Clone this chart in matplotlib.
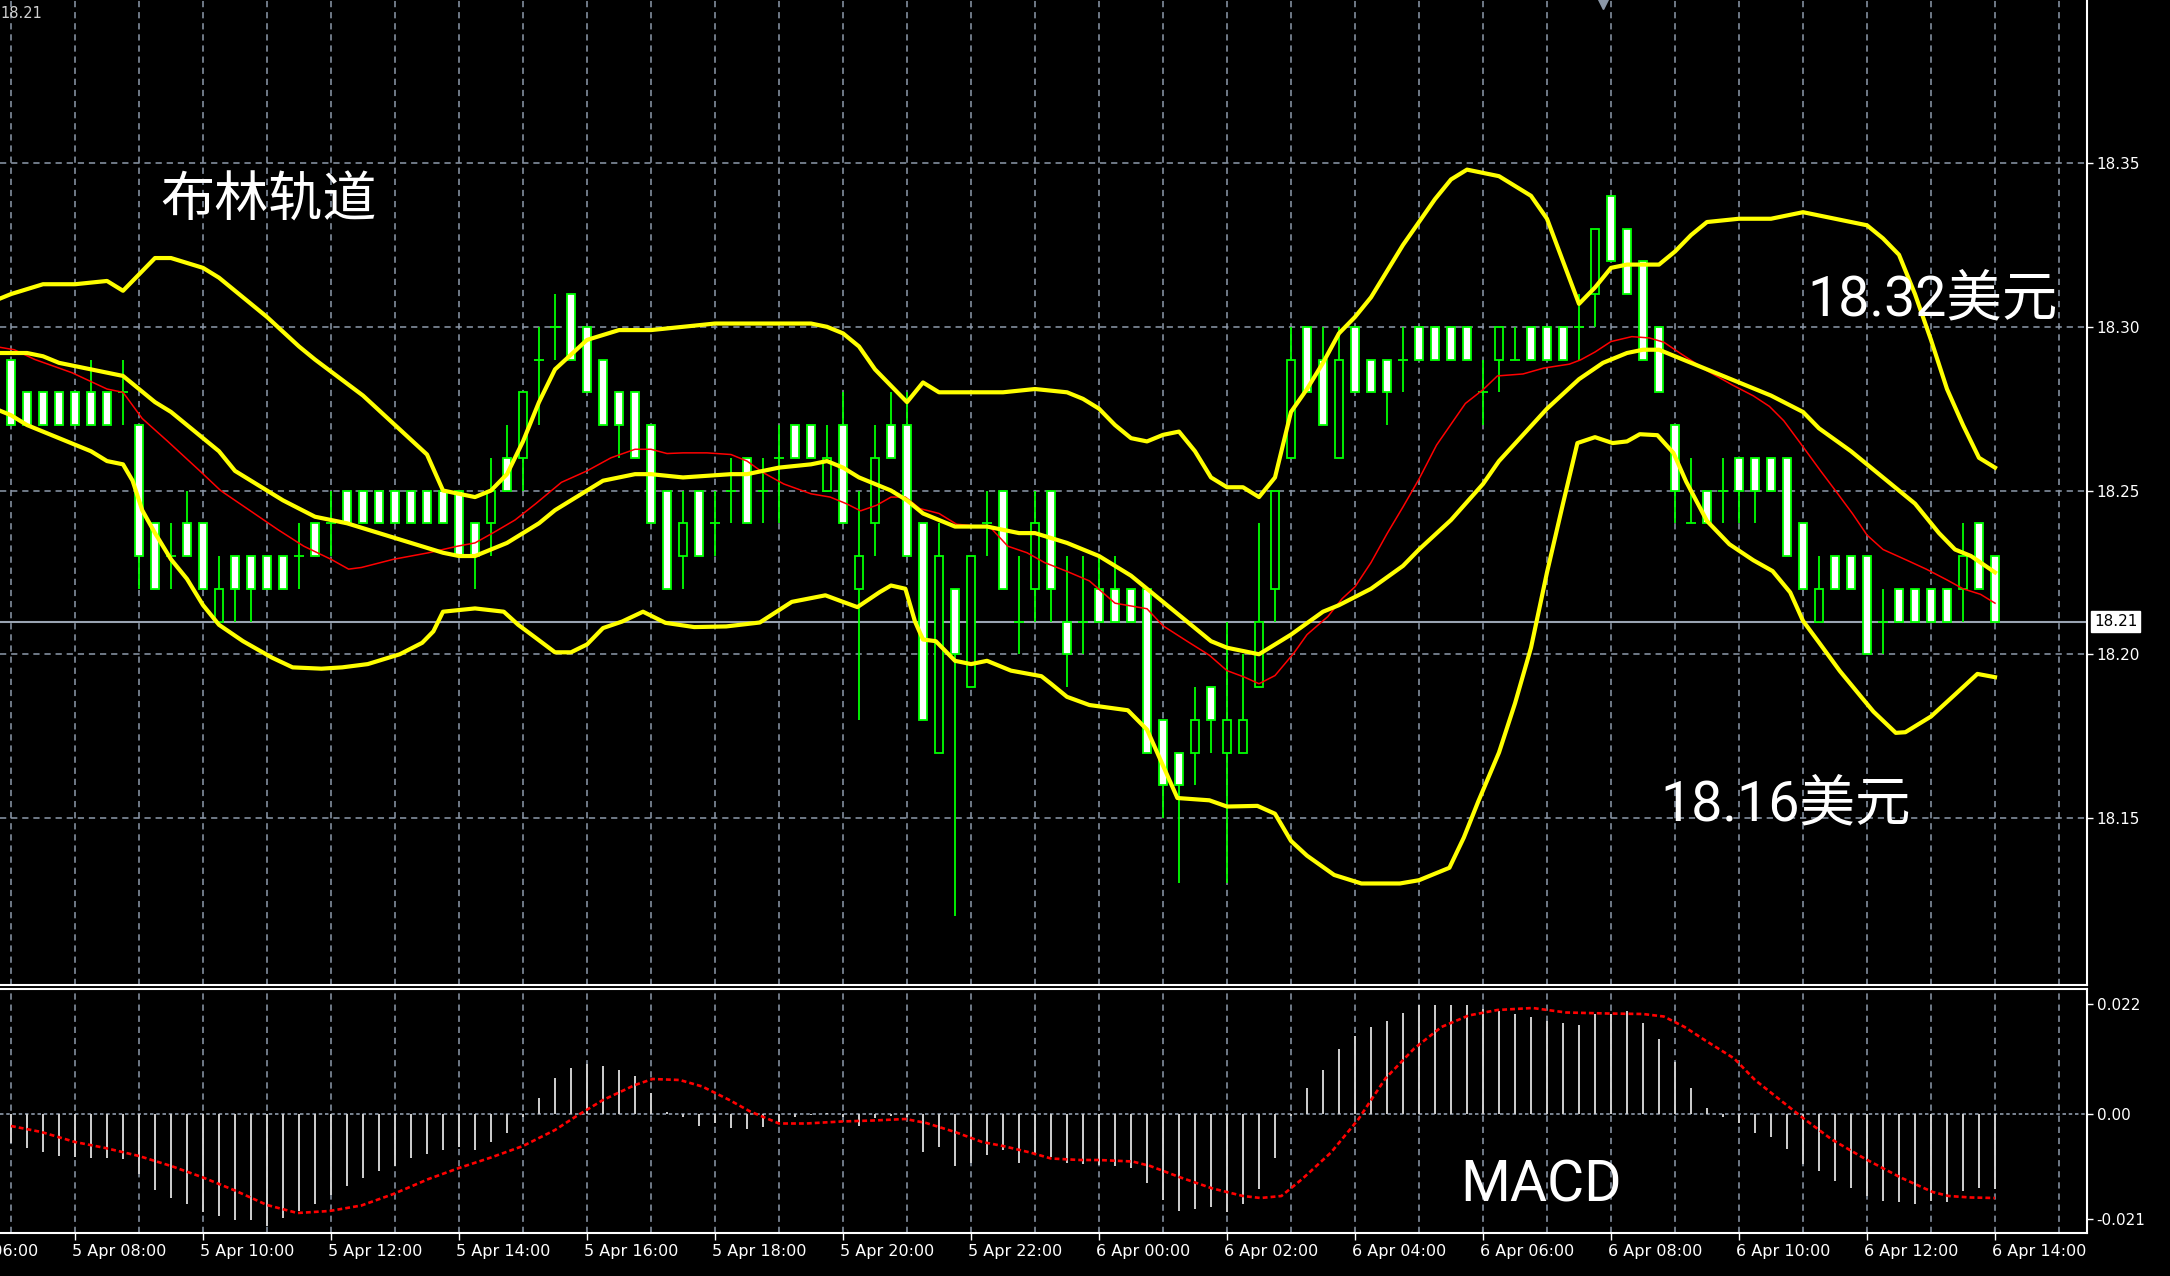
from datetime import datetime, timedelta

import matplotlib
matplotlib.use("Agg")
import matplotlib.pyplot as plt
import numpy as np

plt.rcParams['lines.scale_dashes'] = False

# 15-minute bars, bar 0 = 5 Apr 08:00
bars = np.arange(-4, 121)
opens = [18.29, 18.28, 18.28, 18.28, 18.28, 18.28, 18.28, 18.28,
         18.27, 18.24, 18.23, 18.24, 18.24, 18.21, 18.23, 18.23,
         18.23, 18.23, 18.23, 18.24, 18.24, 18.25, 18.25, 18.25,
         18.25, 18.25, 18.25, 18.25, 18.25, 18.24, 18.24, 18.26,
         18.26, 18.29, 18.30, 18.31, 18.30, 18.29, 18.28, 18.28,
         18.27, 18.25, 18.23, 18.25, 18.24, 18.25, 18.26, 18.25,
         18.26, 18.27, 18.27, 18.25, 18.27, 18.22, 18.24, 18.27,
         18.27, 18.24, 18.17, 18.22, 18.19, 18.24, 18.25, 18.21,
         18.22, 18.25, 18.21, 18.21, 18.22, 18.22, 18.22, 18.22,
         18.18, 18.17, 18.17, 18.19, 18.17, 18.17, 18.19, 18.22,
         18.26, 18.30, 18.29, 18.26, 18.30, 18.29, 18.29, 18.29,
         18.30, 18.30, 18.30, 18.30, 18.28, 18.29, 18.29, 18.30,
         18.30, 18.30, 18.30, 18.31, 18.34, 18.33, 18.32, 18.30,
         18.27, 18.24, 18.25, 18.25, 18.26, 18.26, 18.26, 18.26,
         18.24, 18.21, 18.23, 18.23, 18.23, 18.21, 18.22, 18.22,
         18.22, 18.22, 18.22, 18.24, 18.23]
highs = [18.29, 18.28, 18.28, 18.28, 18.28, 18.29, 18.28, 18.29,
         18.27, 18.24, 18.24, 18.25, 18.24, 18.23, 18.23, 18.23,
         18.23, 18.23, 18.24, 18.24, 18.25, 18.25, 18.25, 18.25,
         18.25, 18.25, 18.25, 18.25, 18.25, 18.24, 18.26, 18.27,
         18.28, 18.30, 18.31, 18.31, 18.30, 18.29, 18.28, 18.28,
         18.27, 18.25, 18.25, 18.25, 18.25, 18.26, 18.26, 18.26,
         18.27, 18.27, 18.27, 18.27, 18.28, 18.25, 18.27, 18.28,
         18.28, 18.24, 18.24, 18.22, 18.23, 18.25, 18.25, 18.23,
         18.25, 18.25, 18.23, 18.23, 18.23, 18.23, 18.22, 18.22,
         18.18, 18.17, 18.19, 18.19, 18.21, 18.20, 18.24, 18.25,
         18.30, 18.30, 18.30, 18.30, 18.30, 18.29, 18.29, 18.30,
         18.30, 18.30, 18.30, 18.30, 18.29, 18.30, 18.30, 18.30,
         18.30, 18.30, 18.31, 18.33, 18.34, 18.33, 18.32, 18.30,
         18.27, 18.26, 18.25, 18.26, 18.26, 18.26, 18.26, 18.26,
         18.24, 18.23, 18.23, 18.23, 18.23, 18.22, 18.22, 18.22,
         18.22, 18.22, 18.24, 18.24, 18.23]
lows = [18.27, 18.27, 18.27, 18.27, 18.27, 18.27, 18.27, 18.27,
        18.22, 18.22, 18.22, 18.23, 18.22, 18.21, 18.21, 18.21,
        18.22, 18.22, 18.22, 18.23, 18.23, 18.24, 18.24, 18.24,
        18.24, 18.24, 18.24, 18.24, 18.23, 18.22, 18.23, 18.25,
        18.25, 18.27, 18.29, 18.29, 18.28, 18.27, 18.26, 18.26,
        18.24, 18.22, 18.22, 18.23, 18.23, 18.24, 18.24, 18.24,
        18.24, 18.26, 18.26, 18.25, 18.24, 18.18, 18.23, 18.26,
        18.23, 18.18, 18.17, 18.12, 18.19, 18.23, 18.22, 18.20,
        18.21, 18.21, 18.19, 18.20, 18.21, 18.21, 18.21, 18.17,
        18.15, 18.13, 18.16, 18.17, 18.13, 18.17, 18.19, 18.21,
        18.26, 18.28, 18.27, 18.26, 18.28, 18.28, 18.27, 18.28,
        18.29, 18.29, 18.29, 18.29, 18.27, 18.28, 18.29, 18.29,
        18.29, 18.29, 18.29, 18.30, 18.32, 18.31, 18.29, 18.28,
        18.24, 18.24, 18.24, 18.24, 18.24, 18.24, 18.25, 18.23,
        18.22, 18.21, 18.22, 18.22, 18.20, 18.20, 18.21, 18.21,
        18.21, 18.21, 18.21, 18.22, 18.21]
closes = [18.27, 18.27, 18.27, 18.27, 18.27, 18.27, 18.27, 18.28,
          18.23, 18.22, 18.23, 18.23, 18.22, 18.22, 18.22, 18.22,
          18.22, 18.22, 18.23, 18.23, 18.24, 18.24, 18.24, 18.24,
          18.24, 18.24, 18.24, 18.24, 18.23, 18.23, 18.25, 18.25,
          18.28, 18.29, 18.30, 18.29, 18.28, 18.27, 18.27, 18.26,
          18.24, 18.22, 18.24, 18.23, 18.24, 18.25, 18.24, 18.25,
          18.26, 18.26, 18.26, 18.26, 18.24, 18.23, 18.26, 18.26,
          18.23, 18.18, 18.23, 18.20, 18.23, 18.24, 18.22, 18.21,
          18.24, 18.22, 18.20, 18.21, 18.21, 18.21, 18.21, 18.17,
          18.16, 18.16, 18.18, 18.18, 18.18, 18.18, 18.21, 18.25,
          18.29, 18.28, 18.27, 18.29, 18.28, 18.28, 18.28, 18.29,
          18.29, 18.29, 18.29, 18.29, 18.28, 18.30, 18.29, 18.29,
          18.29, 18.29, 18.30, 18.33, 18.32, 18.31, 18.29, 18.28,
          18.25, 18.24, 18.24, 18.25, 18.25, 18.25, 18.25, 18.23,
          18.22, 18.22, 18.22, 18.22, 18.20, 18.21, 18.21, 18.21,
          18.21, 18.21, 18.23, 18.22, 18.21]

# Bollinger bands and moving average as (bar, price)
band_upper = [(-5, 18.308), (-4, 18.310), (-2, 18.313), (0, 18.313), (2, 18.314), (3, 18.311),
              (5, 18.321), (6, 18.321), (8, 18.318), (9, 18.315), (10, 18.311), (12, 18.303),
              (14, 18.294), (15, 18.290), (18, 18.279), (20, 18.270), (22, 18.261), (23, 18.250),
              (25, 18.248), (26, 18.250), (27, 18.255), (28, 18.265), (29, 18.277), (30, 18.287),
              (32, 18.296), (34, 18.299), (36, 18.299), (38, 18.300), (40, 18.301), (44, 18.301),
              (46, 18.301), (47, 18.300), (48, 18.298), (49, 18.294), (50, 18.287), (51, 18.282),
              (52, 18.277), (53, 18.283), (54, 18.280), (56, 18.280), (58, 18.280), (60, 18.281),
              (62, 18.280), (63, 18.278), (64, 18.275), (65, 18.270), (66, 18.266), (67, 18.265),
              (68, 18.267), (69, 18.268), (70, 18.262), (71, 18.254), (72, 18.251), (73, 18.251),
              (74, 18.248), (75, 18.254), (76, 18.274), (77, 18.281), (78, 18.289), (79, 18.298),
              (80, 18.303), (81, 18.309), (82, 18.317), (83, 18.325), (84, 18.332), (85, 18.339),
              (86, 18.345), (87, 18.348), (88, 18.347), (89, 18.346), (90, 18.343), (91, 18.340),
              (92, 18.333), (93, 18.320), (94, 18.307), (95, 18.312), (96, 18.318), (97, 18.319),
              (99, 18.319), (100, 18.323), (101, 18.328), (102, 18.332), (104, 18.333), (106, 18.333),
              (107, 18.334), (108, 18.335), (109, 18.334), (110, 18.333), (111, 18.332), (112, 18.331),
              (113, 18.327), (114, 18.322), (115, 18.310), (116, 18.296), (117, 18.281), (118, 18.270),
              (119, 18.260), (120, 18.257)]
band_mid = [(-5, 18.292), (-3, 18.292), (-2, 18.291), (-1, 18.289), (1, 18.287), (3, 18.285),
            (5, 18.277), (6, 18.274), (7, 18.270), (9, 18.262), (10, 18.256), (12, 18.250),
            (13, 18.247), (15, 18.242), (17, 18.240), (19, 18.237), (21, 18.234), (23, 18.231),
            (24, 18.230), (25, 18.230), (27, 18.234), (28, 18.237), (29, 18.240), (30, 18.244),
            (32, 18.250), (33, 18.253), (35, 18.255), (36, 18.255), (38, 18.254), (41, 18.255),
            (42, 18.255), (44, 18.257), (46, 18.258), (47, 18.259), (48, 18.257), (49, 18.254),
            (50, 18.252), (51, 18.250), (52, 18.247), (53, 18.243), (55, 18.239), (57, 18.239),
            (59, 18.237), (60, 18.237), (62, 18.234), (64, 18.230), (65, 18.227), (66, 18.224),
            (67, 18.220), (68, 18.216), (69.5, 18.210), (71, 18.204), (72, 18.202), (73, 18.201),
            (74, 18.200), (76, 18.206), (78, 18.213), (79, 18.215), (81, 18.220), (83, 18.227),
            (84, 18.232), (86, 18.241), (88, 18.252), (89, 18.259), (92, 18.275), (94, 18.284),
            (95.5, 18.289), (97, 18.292), (98, 18.293), (99, 18.293), (100, 18.291), (101, 18.289),
            (103, 18.285), (104.5, 18.282), (106, 18.279), (108, 18.274), (109, 18.269), (111, 18.262),
            (113, 18.254), (115, 18.246), (116.5, 18.237), (117.5, 18.232), (118.5, 18.230), (120, 18.225)]
band_lower = [(-5, 18.275), (-4, 18.273), (-3, 18.270), (-1, 18.266), (1, 18.262), (2, 18.259),
              (3, 18.258), (3.6, 18.253), (4.2, 18.244), (5, 18.237), (6, 18.229), (7, 18.223),
              (8, 18.215), (9, 18.209), (10.5, 18.204), (12.3, 18.199), (13.6, 18.196), (15.4, 18.1956),
              (16.7, 18.196), (18.3, 18.197), (20.3, 18.200), (21.7, 18.2035), (22.4, 18.207), (23, 18.213),
              (25, 18.214), (26.8, 18.213), (27.7, 18.209), (28.8, 18.205), (30, 18.2006), (31, 18.2006),
              (32, 18.203), (33, 18.208), (34.2, 18.210), (35.5, 18.213), (36.9, 18.2096), (38.7, 18.2083),
              (40.7, 18.2085), (42.8, 18.2097), (44.8, 18.216), (46.9, 18.218), (48, 18.216), (48.9, 18.2144),
              (50.3, 18.219), (51, 18.221), (51.9, 18.220), (52.5, 18.210), (53, 18.2045), (53.8, 18.204),
              (55, 18.198), (56, 18.197), (57, 18.198), (58.5, 18.195), (60.4, 18.1933), (61, 18.191),
              (62, 18.187), (63.4, 18.1845), (65.8, 18.1829), (67, 18.177), (68.9, 18.1561), (70.9, 18.1554),
              (72, 18.1535), (73.9, 18.1537), (75, 18.1513), (76, 18.143), (77, 18.1385), (78.7, 18.1326),
              (80.4, 18.130), (82.8, 18.130), (84, 18.131), (85.9, 18.1348), (86.8, 18.144), (87.7, 18.155),
              (89, 18.170), (90, 18.185), (91, 18.202), (92, 18.225), (93, 18.246), (93.9, 18.2645),
              (95, 18.2663), (96.1, 18.2645), (97, 18.265), (97.8, 18.2672), (98.9, 18.2669), (99.9, 18.2615),
              (100.7, 18.2527), (102, 18.2407), (103.4, 18.2336), (104.9, 18.2287), (106.1, 18.2254),
              (107.2, 18.2189), (108, 18.2102), (109, 18.2036), (110.3, 18.1949), (111.6, 18.1872),
              (112.4, 18.1825), (113.8, 18.176), (114.4, 18.1762), (116, 18.181), (117.5, 18.1877),
              (118.9, 18.194), (120, 18.193)]
ma_red = [(-5, 18.294), (-3.8, 18.293), (-2.5, 18.290), (-0.2, 18.286), (2, 18.281), (3, 18.280),
          (4.2, 18.272), (5.8, 18.265), (7.8, 18.256), (9.1, 18.250), (10.9, 18.244), (12.7, 18.238),
          (14.3, 18.233), (16, 18.229), (17.1, 18.226), (17.9, 18.2265), (19.9, 18.229), (22.1, 18.231),
          (23.9, 18.233), (25, 18.234), (26.1, 18.237), (27.5, 18.241), (28.8, 18.246), (30.4, 18.2525),
          (32, 18.256), (33.5, 18.260), (35, 18.2626), (36, 18.2626), (37, 18.2613), (38, 18.2615),
          (39.5, 18.2615), (41, 18.261), (42, 18.259), (43, 18.2555), (44.3, 18.252), (46, 18.249),
          (47.2, 18.248), (48.2, 18.246), (49.1, 18.2438), (50.1, 18.2455), (51, 18.248), (51.9, 18.248),
          (52.8, 18.2445), (54, 18.243), (55.1, 18.2397), (57.2, 18.2388), (58.3, 18.233), (59.5, 18.231),
          (60.6, 18.228), (62, 18.2253), (63.4, 18.2224), (65, 18.2156), (67, 18.2139), (68, 18.2087),
          (69.5, 18.204), (70.9, 18.1997), (72, 18.195), (73.1, 18.193), (74, 18.191), (75, 18.1935),
          (76.2, 18.2005), (77, 18.206), (78.3, 18.2115), (79.2, 18.217), (80, 18.2206), (81, 18.228),
          (82, 18.2368), (83, 18.245), (84, 18.2535), (85.1, 18.2639), (86.9, 18.2766), (88, 18.2808),
          (88.9, 18.285), (90.5, 18.2856), (91.8, 18.2874), (93.4, 18.2886), (94.1, 18.2899), (95, 18.2923),
          (96, 18.2955), (97.3, 18.297), (98.4, 18.2966), (99.3, 18.2953), (100.3, 18.292), (102, 18.2866),
          (103.6, 18.2822), (104.9, 18.2789), (105.9, 18.2757), (106.8, 18.2713), (107.8, 18.2647),
          (109.1, 18.256), (110.1, 18.2495), (111.1, 18.2429), (112, 18.2364), (113, 18.232),
          (114.5, 18.2287), (115.7, 18.226), (117, 18.2227), (118, 18.220), (119.1, 18.2183), (120, 18.2156)]

# MACD histogram, one value per bar
macd_hist = [-0.0058, -0.0067, -0.0075, -0.0083, -0.0085, -0.0087, -0.0087, -0.0090,
             -0.0119, -0.0152, -0.0168, -0.0180, -0.0196, -0.0204, -0.0212, -0.0212,
             -0.0223, -0.0208, -0.0193, -0.0180, -0.0161, -0.0143, -0.0128, -0.0113,
             -0.0103, -0.0088, -0.0079, -0.0072, -0.0066, -0.0072, -0.0055, -0.0038,
             -0.0005, 0.0032, 0.0072, 0.0092, 0.0100, 0.0097, 0.0088, 0.0077,
             0.0042, 0.0005, -0.0005, -0.0023, -0.0018, -0.0027, -0.0030, -0.0025,
             -0.0015, -0.0005, -0.0002, 0.0003, -0.0005, -0.0023, -0.0008, -0.0003,
             -0.0005, -0.0075, -0.0065, -0.0103, -0.0098, -0.0082, -0.0072, -0.0098,
             -0.0079, -0.0085, -0.0098, -0.0100, -0.0102, -0.0104, -0.0107, -0.0137,
             -0.0171, -0.0193, -0.0190, -0.0186, -0.0196, -0.0180, -0.0150, -0.0087,
             -0.0003, 0.0053, 0.0088, 0.0131, 0.0157, 0.0175, 0.0187, 0.0203,
             0.0218, 0.0218, 0.0218, 0.0218, 0.0210, 0.0207, 0.0201, 0.0195,
             0.0187, 0.0183, 0.0179, 0.0200, 0.0200, 0.0207, 0.0183, 0.0150,
             0.0104, 0.0053, 0.0013, -0.0005, -0.0018, -0.0038, -0.0046, -0.0069,
             -0.0100, -0.0114, -0.0133, -0.0147, -0.0163, -0.0173, -0.0176, -0.0180,
             -0.0173, -0.0176, -0.0153, -0.0147, -0.0150]
macd_signal = [(-4, -0.0024), (-2.1, -0.0036), (0, -0.0056), (1.9, -0.0068), (4, -0.0084), (6.1, -0.0105),
               (8, -0.0127), (10, -0.0153), (12, -0.0182), (13.9, -0.0198), (15.9, -0.0194), (17.9, -0.0183),
               (19.9, -0.0160), (22.1, -0.0130), (24, -0.0108), (26, -0.0087), (28, -0.0064), (30, -0.0032),
               (31.3, -0.0005), (33, 0.0028), (35, 0.0058), (36.1, 0.0070), (37.8, 0.0068), (39.2, 0.0055),
               (40.9, 0.0028), (42.2, 0.0005), (44, -0.0019), (45.7, -0.0019), (47.9, -0.0015), (49.9, -0.0013),
               (51.9, -0.0010), (53.2, -0.0018), (55, -0.0036), (56.7, -0.0056), (58, -0.0064), (59.7, -0.0077),
               (61, -0.0089), (62.8, -0.0092), (64, -0.0092), (66.1, -0.0095), (67.2, -0.0104), (69.1, -0.0127),
               (71.1, -0.0149), (73, -0.0164), (74.1, -0.0168), (75.4, -0.0164), (76.7, -0.0130), (78.5, -0.0077),
               (80.2, -0.0011), (81.9, 0.0071), (83.7, 0.0131), (85.4, 0.0174), (87.1, 0.0197), (88.9, 0.0208),
               (91.1, 0.0212), (93.2, 0.0203), (95.8, 0.0201), (98, 0.0200), (99.3, 0.0195), (100.6, 0.0174),
               (101.9, 0.0147), (103.7, 0.0111), (105, 0.0068), (106.3, 0.0035), (108, -0.0008), (109.8, -0.0051),
               (111.9, -0.0090), (114.1, -0.0127), (116.1, -0.0156), (117.1, -0.0164), (118.5, -0.0167),
               (120, -0.0168)]

price_ticks = [18.15, 18.20, 18.25, 18.30, 18.35]
macd_ticks = [-0.021, 0.0, 0.022]
macd_tick_labels = ['-0.021', '0.00', '0.022']
label_bars = list(range(-8, 121, 8))
start_time = datetime(2016, 4, 5, 8, 0)

GREEN = '#00FF00'
GRID = '#8E9AAB'
DASH = (0, (4.5, 3.5))

fig = plt.figure(figsize=(21.7, 12.76), dpi=100, facecolor='black')
W, H = 2170, 1276
ax = fig.add_axes([0, 1 - 985 / H, 2087 / W, 985 / H])
axm = fig.add_axes([0, 1 - 1233 / H, 2087 / W, (1233 - 989) / H], sharex=ax)

for a in (ax, axm):
    a.set_facecolor('black')
    a.set_axisbelow(True)
    a.spines['left'].set_visible(False)
    for s in ('right', 'bottom', 'top'):
        a.spines[s].set_color('white')
        a.spines[s].set_linewidth(1.5)
ax.spines['top'].set_visible(False)

# hourly grid, labels every two hours
ax.set_xticks(label_bars)
ax.set_xticks(range(-4, 125, 4), minor=True)
ax.set_xlim(-4.6875, 125.75)
ax.set_ylim(18.099, 18.3998)
axm.set_ylim(-0.0238, 0.0250)

for a in (ax, axm):
    a.grid(True, which='both', axis='x', color=GRID, linestyle=DASH, linewidth=1.1)
ax.grid(True, which='major', axis='y', color=GRID, linestyle=DASH, linewidth=1.1)
ax.tick_params(axis='x', which='both', length=0, labelbottom=False)
axm.tick_params(axis='x', which='major', length=5, width=1, color='white', labelbottom=False)
axm.tick_params(axis='x', which='minor', length=0)

ax.yaxis.tick_right()
ax.set_yticks(price_ticks)
ax.set_yticklabels([f'{p:.2f}' for p in price_ticks])
axm.yaxis.tick_right()
axm.set_yticks(macd_ticks)
axm.set_yticklabels(macd_tick_labels)
for a in (ax, axm):
    a.tick_params(axis='y', colors='white', labelsize=11, length=4, width=1, pad=3)
ax.set_ylim(18.099, 18.3998)
axm.set_ylim(-0.0238, 0.0250)

# current price line
last = closes[-1]
ax.axhline(last, color='#9AA4B2', linewidth=1.5, zorder=1)
ax.annotate(f'{last:.2f}', xy=(1, last), xycoords=('axes fraction', 'data'),
            xytext=(5, 0), textcoords='offset points', ha='left', va='center',
            fontsize=11, color='black', annotation_clip=False,
            bbox=dict(boxstyle='square,pad=0.2', fc='white', ec='white'))

# candles
o = np.array(opens)
h = np.array(highs)
l = np.array(lows)
c = np.array(closes)
ax.vlines(bars, l, h, color=GREEN, linewidth=1.3, zorder=2)
body = np.abs(c - o) > 1e-9
bear = body & (c < o)
bull = body & (c > o)
ax.bar(bars[bear], (o - c)[bear], bottom=c[bear], width=0.5, color='white',
       edgecolor=GREEN, linewidth=1.3, zorder=3)
ax.bar(bars[bull], (c - o)[bull], bottom=o[bull], width=0.5, color='black',
       edgecolor=GREEN, linewidth=1.3, zorder=3)
ax.hlines(c[~body], bars[~body] - 0.3, bars[~body] + 0.3, color=GREEN, linewidth=1.3, zorder=3)

# indicators
bx, by = zip(*ma_red)
ax.plot(bx, by, color='#FF0000', linewidth=1.1, zorder=4)
for band in (band_upper, band_mid, band_lower):
    bx, by = zip(*band)
    ax.plot(bx, by, color='#FFFF00', linewidth=3.0, solid_joinstyle='round', zorder=5)

# MACD panel
axm.axhline(0, color=GRID, linestyle=(0, (2.5, 2.0)), linewidth=1.2, zorder=1)
axm.vlines(bars, 0, macd_hist, color='#D0D0D0', linewidth=1.4, zorder=2)
sx, sy = zip(*macd_signal)
axm.plot(sx, sy, color='#FF0000', linewidth=1.9, linestyle=(0, (3.5, 2.2)), zorder=3)

for b in label_bars:
    t = start_time + timedelta(minutes=15 * b)
    axm.annotate(f'{t.day} Apr {t:%H:%M}', xy=(b, 0), xycoords=('data', 'axes fraction'),
                 xytext=(-2, -13), textcoords='offset points', ha='left', va='center',
                 fontsize=11.5, color='white', annotation_clip=False)

# annotations
cjk = ['Roboto', 'Noto Sans CJK SC', 'DejaVu Sans']
ax.text(12.1, 18.3338, '布林轨道', family=['Noto Sans CJK SC', 'DejaVu Sans'],
        fontsize=39, color='white', ha='center', va='baseline', zorder=6)
ax.text(116.1, 18.3036, '18.32美元', family=cjk, fontsize=40, color='white',
        ha='center', va='baseline', zorder=6)
ax.text(106.9, 18.1494, '18.16美元', family=cjk, fontsize=40, color='white',
        ha='center', va='baseline', zorder=6)
axm.text(91.6, -0.0174, 'MACD', family=cjk, fontsize=41, color='white',
         ha='center', va='baseline', zorder=6)

fig.text(0.0, 1 - 14 / H, f'{last:.2f}', ha='left', va='center', fontsize=10.5, color='#D0D0D0')
ax.plot([95.5], [0.997], marker='v', markersize=9, color='#8C98A8',
        transform=ax.get_xaxis_transform(), clip_on=False)

fig.savefig('out.png', dpi=100, facecolor='black')
